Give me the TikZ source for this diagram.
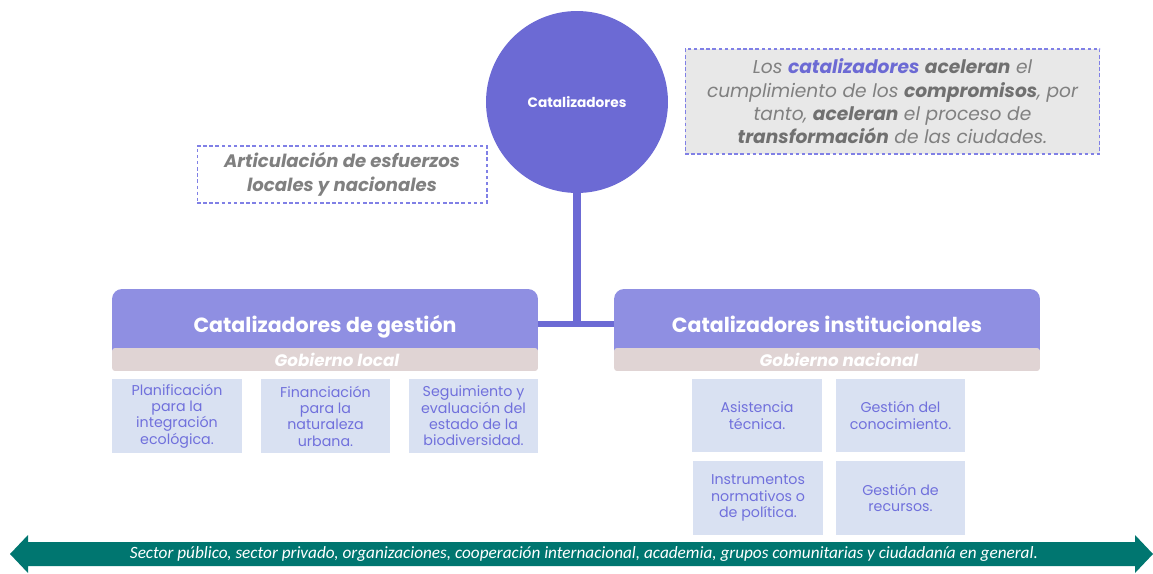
\documentclass[tikz,border=0pt]{standalone}
\usepackage{fontspec}
\setmainfont{Poppins}
\newfontfamily\calibri{Carlito}
\definecolor{catpurple}{RGB}{108, 106, 212}
\definecolor{headpurple}{RGB}{143, 143, 226}
\definecolor{bandrose}{RGB}{224, 212, 212}
\definecolor{itemblue}{RGB}{217, 225, 242}
\definecolor{itemtext}{RGB}{112, 112, 220}
\definecolor{notegray}{RGB}{128, 128, 128}
\definecolor{notedark}{RGB}{112, 112, 112}
\definecolor{notefill}{RGB}{232, 232, 232}
\definecolor{dashpurple}{RGB}{128, 128, 230}
\definecolor{actorteal}{RGB}{0, 118, 112}
\tikzset{
    header/.style={rectangle, fill=headpurple, text=white, inner sep=0pt,
        minimum width=8.52cm, minimum height=1.4cm, rounded corners=0.2cm,
        text depth=0pt, font=\bfseries\fontsize{11.7}{13}\selectfont},
    band/.style={rectangle, fill=bandrose, text=white, inner sep=0pt,
        minimum width=8.52cm, minimum height=0.46cm, rounded corners=0.06cm,
        execute at begin node=\hspace*{0.48cm},
        font=\bfseries\itshape\fontsize{9.5}{11}\selectfont},
    item/.style={rectangle, fill=itemblue, text=itemtext, inner sep=0pt,
        minimum width=2.6cm, minimum height=1.48cm, align=center,
        font=\fontsize{8.1}{9.3}\selectfont},
    note/.style={rectangle, draw=dashpurple, line width=0.6pt,
        dash pattern=on 2pt off 1.5pt, text=notegray, align=center,
        inner sep=0pt},
    link/.style={draw=catpurple, line width=3.4pt}
}

\begin{document}
\begin{tikzpicture}[x=0.02cm, y=-0.02cm]
    \useasboundingbox (0, 0) rectangle (1153, 574);

    \node[circle, fill=catpurple, text=white, inner sep=0pt,
        minimum size=3.64cm, font=\bfseries\fontsize{7.8}{9}\selectfont]
        (cat) at (577, 102) {Catalizadores};

    \node[note, fill=notefill, minimum width=8.3cm, minimum height=2.1cm,
        font=\itshape\fontsize{10.6}{13.3}\selectfont] (why) at (892.5, 101.5)
        {Los \textbf{\color{catpurple}catalizadores}
        \textbf{\color{notedark}aceleran} el\\
        cumplimiento de los \textbf{\color{notedark}compromisos}, por\\
        tanto, \textbf{\color{notedark}aceleran} el proceso de\\
        \textbf{\color{notedark}transformación} de las ciudades.};
    \node[note, fill=white, minimum width=5.8cm, minimum height=1.14cm,
        font=\bfseries\itshape\fontsize{10.3}{13.6}\selectfont]
        (artic) at (342, 174.5)
        {Articulación de esfuerzos\\locales y nacionales};

    \node[header] (gest) at (325, 324) {Catalizadores de gestión};
    \node[header] (inst) at (827, 324) {Catalizadores institucionales};
    \node[band] (local) at (325, 359.5) {Gobierno local};
    \node[band] (nacional) at (827, 359.5) {Gobierno nacional};

    \draw[link, line width=4.5pt] (cat.south) -- (cat.south |- gest.east);
    \draw[link] (gest.east) -- (inst.west);

    \node[item] (plan) at (177, 416) {Planificación\\para la\\integración\\
        ecológica.};
    \node[item] (finan) at (325.5, 416) {Financiación\\para la\\naturaleza\\
        urbana.};
    \node[item] (segui) at (473.5, 416) {Seguimiento y\\evaluación del\\
        estado de la\\biodiversidad.};
    \node[item] (asist) at (757, 415.5) {Asistencia\\técnica.};
    \node[item] (conoc) at (900.5, 415.5) {Gestión del\\conocimiento.};
    \node[item] (norma) at (758, 498) {Instrumentos\\normativos o\\de
        política.};
    \node[item] (recur) at (900.5, 498) {Gestión de\\recursos.};

    \fill[actorteal] (10, 554) -- (28, 535) -- (28, 542) -- (1135, 542)
        -- (1135, 535) -- (1153, 554) -- (1135, 573) -- (1135, 566)
        -- (28, 566) -- (28, 573) -- cycle;
    \node[text=white, font=\calibri\itshape\fontsize{9.8}{11}\selectfont]
        (actors) at (584, 554) {Sector público, sector privado,
        organizaciones, cooperación internacional, academia, grupos
        comunitarias y ciudadanía en general.};
\end{tikzpicture}
\end{document}
